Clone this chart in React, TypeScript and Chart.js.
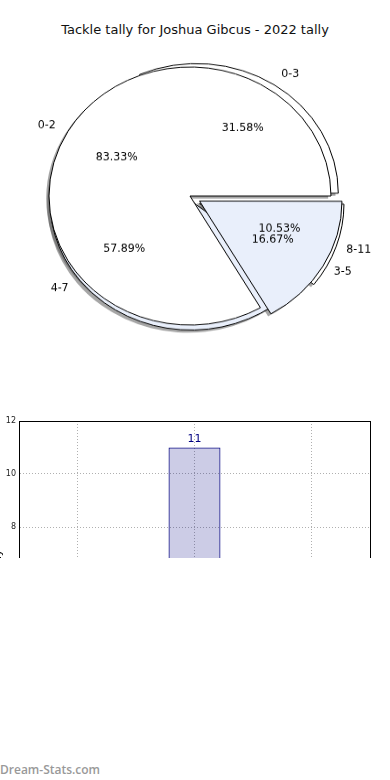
import React, { useEffect, useRef } from 'react';
import { Chart, registerables } from 'chart.js';

Chart.register(...registerables);

const TITLE = 'Tackle tally for Joshua Gibcus - 2022 tally';
const WATERMARK = 'Dream-Stats.com';

// Pie drawn underneath
const pieACategories = ['0-3', '4-7', '8-11'];
const pieAValues = [31.58, 57.89, 10.53];
// Pie drawn on top
const pieBCategories = ['0-2', '3-5'];
const pieBValues = [83.33, 16.67];

// Bar chart
const barCategories = ['', '2022', ''];
const barValues = [null, 11, null];
const barYMin = 0;
const barYMax = 12;
const barYStep = 2;
const barYTitle = 'Tackle tally';

const K = 0.915; // vertical squeeze of the pie (ellipse)
const FONT = '"DejaVu Sans", sans-serif';
const SHADOW = 'rgba(77,77,77,0.5)';

function makeLabelPlugin(getCharts: () => any[]) {
  return {
    id: 'pieLabels',
    afterDatasetsDraw(chart: any) {
      const ctx = chart.ctx;
      const draw = (t: string, x: number, y: number, align: string) => {
        ctx.save();
        ctx.translate(x, y);
        ctx.scale(1, 1 / K);
        ctx.textAlign = align;
        ctx.textBaseline = 'middle';
        ctx.fillText(t, 0, 0);
        ctx.restore();
      };
      ctx.save();
      ctx.font = `11px ${FONT}`;
      ctx.fillStyle = '#000';
      getCharts().forEach((c: any) => {
        if (!c) return;
        const meta = c.getDatasetMeta(0);
        const ds = c.data.datasets[0];
        const labels = c.data.labels;
        const total = ds.data.reduce((a: number, b: number) => a + b, 0);
        meta.data.forEach((arc: any, i: number) => {
          const p = arc.getProps(['x', 'y', 'startAngle', 'endAngle', 'outerRadius'], true);
          const mid = (p.startAngle + p.endAngle) / 2;
          const off = (arc.options.offset || 0) / 4;
          const cx = p.x + Math.cos(mid) * off;
          const cy = p.y + Math.sin(mid) * off;
          const r = p.outerRadius;
          draw(
            String(labels[i]),
            cx + Math.cos(mid) * r * 1.1,
            cy + Math.sin(mid) * r * 1.1,
            Math.cos(mid) >= 0 ? 'left' : 'right'
          );
          draw(
            ((ds.data[i] / total) * 100).toFixed(2) + '%',
            cx + Math.cos(mid) * r * 0.6,
            cy + Math.sin(mid) * r * 0.6,
            'center'
          );
        });
      });
      ctx.restore();
    },
  };
}

function makePie(
  canvas: HTMLCanvasElement,
  categories: string[],
  values: number[],
  colors: string[],
  shifts: number[],
  borderColor: string,
  padding: any,
  plugins: any[]
) {
  // Chart.js draws clockwise; matplotlib draws counter-clockwise from east
  const cats = [...categories].reverse();
  const vals = [...values].reverse();
  const cols = [...colors].reverse();
  const offs = [...shifts].reverse().map((s) => s * 4);
  return new Chart(canvas, {
    type: 'pie',
    data: {
      labels: cats,
      datasets: [
        {
          data: vals,
          backgroundColor: cols,
          borderColor,
          borderWidth: 1,
          offset: offs,
          hoverOffset: 0,
        } as any,
      ],
    },
    options: {
      animation: false,
      responsive: false,
      devicePixelRatio: 1,
      rotation: 90,
      radius: 141,
      events: [],
      layout: { padding },
      plugins: { legend: { display: false }, tooltip: { enabled: false }, title: { display: false } },
    } as any,
    plugins,
  });
}

const pieCanvasStyle: any = {
  position: 'absolute',
  left: -5,
  top: 26,
  width: 390,
  height: 340,
  transform: `scaleY(${K})`,
  transformOrigin: '50% 50%',
};

function Pies() {
  const shA = useRef<HTMLCanvasElement>(null);
  const shB = useRef<HTMLCanvasElement>(null);
  const pA = useRef<HTMLCanvasElement>(null);
  const pB = useRef<HTMLCanvasElement>(null);
  useEffect(() => {
    const colorsA = ['#ffffff', '#e9effb', '#ffffff'];
    const shiftsA = [10, 0, 9];
    const colorsB = ['#ffffff', '#e9effb'];
    const shiftsB = [0, 11];
    // centre shifts via padding (canvas px): pie A is (+1, +5 page) from pie B; shadows (-2.8, +2.6 page)
    const padA = { left: 2, right: 0, top: 10.93, bottom: 0 };
    const padB = { left: 0, right: 0, top: 0, bottom: 0 };
    const padShA = { left: 2, right: 5.6, top: 10.93 + 5.68, bottom: 0 };
    const padShB = { left: 0, right: 5.6, top: 5.68, bottom: 0 };
    const shadowCols = (n: number) => new Array(n).fill(SHADOW);
    const c1 = makePie(shA.current!, pieACategories, pieAValues, shadowCols(3), shiftsA, 'rgba(0,0,0,0)', padShA, []);
    const c2 = makePie(shB.current!, pieBCategories, pieBValues, shadowCols(2), shiftsB, 'rgba(0,0,0,0)', padShB, []);
    const c3 = makePie(pA.current!, pieACategories, pieAValues, colorsA, shiftsA, '#000', padA, []);
    let c4: any = null;
    c4 = makePie(pB.current!, pieBCategories, pieBValues, colorsB, shiftsB, '#000', padB, [
      makeLabelPlugin(() => [c3, c4]),
    ]);
    c4.draw();
    return () => {
      c1.destroy();
      c2.destroy();
      c3.destroy();
      c4.destroy();
    };
  }, []);
  return (
    <>
      <canvas ref={shA} width={390} height={340} style={pieCanvasStyle} />
      <canvas ref={shB} width={390} height={340} style={pieCanvasStyle} />
      <canvas ref={pA} width={390} height={340} style={pieCanvasStyle} />
      <canvas ref={pB} width={390} height={340} style={pieCanvasStyle} />
    </>
  );
}

const barDecor = {
  id: 'barDecor',
  afterDatasetsDraw(chart: any) {
    const ctx = chart.ctx;
    const a = chart.chartArea;
    ctx.save();
    ctx.strokeStyle = '#000';
    ctx.lineWidth = 1;
    ctx.strokeRect(Math.round(a.left) + 0.5, Math.round(a.top) + 0.5, Math.round(a.right - a.left), Math.round(a.bottom - a.top));
    const meta = chart.getDatasetMeta(0);
    const ds = chart.data.datasets[0];
    ctx.font = `11px ${FONT}`;
    ctx.fillStyle = '#000080';
    ctx.textAlign = 'center';
    ctx.textBaseline = 'bottom';
    meta.data.forEach((bar: any, i: number) => {
      const v = ds.data[i];
      if (v === null || v === undefined) return;
      ctx.fillText(String(v), bar.x, bar.y - 3);
    });
    ctx.restore();
  },
};

function BarLayer() {
  const ref = useRef<HTMLCanvasElement>(null);
  useEffect(() => {
    if (!ref.current) return;
    const chart = new Chart(ref.current, {
      type: 'bar',
      data: {
        labels: barCategories,
        datasets: [
          {
            data: barValues,
            backgroundColor: 'rgba(0,0,128,0.2)',
            borderColor: '#000080',
            borderWidth: 1,
            barPercentage: 0.444,
            categoryPercentage: 1,
          } as any,
        ],
      },
      options: {
        animation: false,
        responsive: false,
        devicePixelRatio: 1,
        events: [],
        layout: { padding: { top: 10, right: 20, left: 0, bottom: 0 } },
        plugins: { legend: { display: false }, tooltip: { enabled: false } },
        scales: {
          x: {
            afterFit: (s: any) => {
              s.height = 30;
            },
            grid: { offset: false, color: '#b0b0b0', lineWidth: 1, drawTicks: false },
            border: { display: true, color: '#000', dash: [1, 2] },
            ticks: { font: { family: FONT, size: 8 }, color: '#333' },
          },
          y: {
            min: barYMin,
            max: barYMax,
            afterFit: (s: any) => {
              s.width = 27;
            },
            title: { display: true, text: barYTitle, font: { family: FONT, size: 11 }, color: '#000', padding: 0 },
            grid: { color: '#b0b0b0', lineWidth: 1, drawTicks: false },
            border: { display: true, color: '#000', dash: [1, 2] },
            ticks: { stepSize: barYStep, font: { family: FONT, size: 8 }, color: '#222', padding: 3 },
          },
        },
      } as any,
      plugins: [barDecor],
    });
    return () => chart.destroy();
  }, []);
  return (
    <div style={{ position: 'absolute', left: 0, top: 411, width: 390, height: 147, overflow: 'hidden' }}>
      <canvas
        ref={ref}
        width={398}
        height={358}
        style={{ position: 'absolute', left: -8, top: 0, width: 398, height: 358, display: 'block' }}
      />
    </div>
  );
}

export default function App() {
  return (
    <div
      style={{
        position: 'absolute',
        left: 0,
        top: 0,
        width: 390,
        height: 780,
        background: '#fff',
        overflow: 'hidden',
      }}
    >
      <div
        style={{
          position: 'absolute',
          left: 0,
          top: 21,
          width: 390,
          textAlign: 'center',
          fontFamily: FONT,
          fontSize: 13,
          color: '#111',
          lineHeight: '18px',
        }}
      >
        {TITLE}
      </div>
      <Pies />
      <BarLayer />
      <div
        style={{
          position: 'absolute',
          left: 0,
          top: 762,
          fontFamily: '"Open Sans", sans-serif',
          fontWeight: 600,
          fontSize: 12,
          color: '#999',
          lineHeight: '16px',
        }}
      >
        {WATERMARK}
      </div>
    </div>
  );
}
